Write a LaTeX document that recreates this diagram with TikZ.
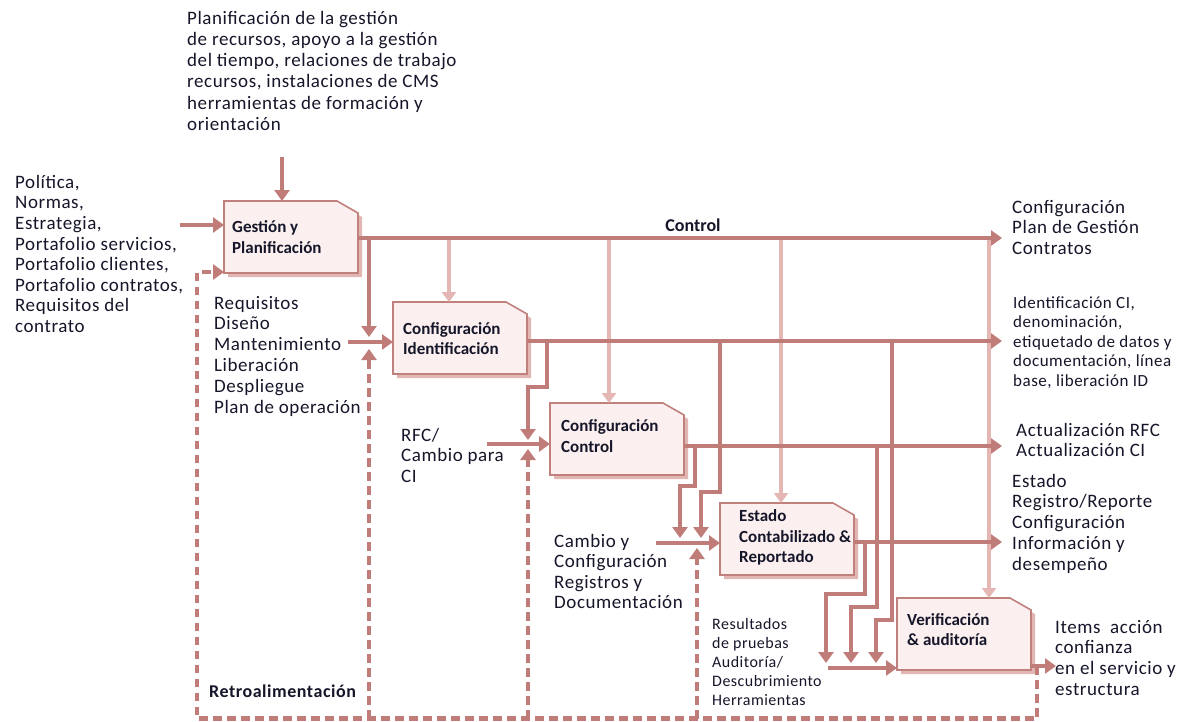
\documentclass[tikz,border=0pt]{standalone}
\usepackage{fontspec}
\setmainfont{Carlito}
\newfontfamily\txtfont[LetterSpace=3]{Carlito}
\usetikzlibrary{arrows.meta}

\definecolor{rose}{HTML}{C07C78}
\definecolor{palerose}{HTML}{E4B7B4}
\definecolor{boxfill}{HTML}{FBF0EF}
\definecolor{boxedge}{HTML}{C0807C}
\definecolor{boxshade}{HTML}{E2B6B3}
\definecolor{ink}{HTML}{16162A}

\tikzset{
  box/.style={minimum width=134pt, minimum height=72pt, anchor=north west,
    inner sep=0pt, outer sep=0pt},
  flow/.style={draw=rose, line width=4.2pt, -{Triangle[length=11pt,width=15pt]}},
  ctrl/.style={draw=palerose, line width=3.6pt, -{Triangle[length=10pt,width=14pt]}},
  fback/.style={draw=rose, line width=4.2pt, dash pattern=on 8.5pt off 5.5pt,
    -{Triangle[length=11pt,width=15pt]}},
  lbl/.style={anchor=north west, inner sep=0pt, align=left, text=ink},
  big/.style={lbl, font=\txtfont\fontsize{19}{20.7}\selectfont},
  mid/.style={lbl, font=\txtfont\fontsize{17}{19.5}\selectfont},
  small/.style={lbl, font=\txtfont\fontsize{16}{19}\selectfont},
  boxlbl/.style={lbl, font=\bfseries\fontsize{17}{20.5}\selectfont},
}

% chamfered process box with its drop shadow, drawn on a named node
\newcommand{\cfgshape}[1]{%
  \fill[boxshade] ([shift={(4pt,-4pt)}]#1.north west)
    -- ([shift={(-17pt,-4pt)}]#1.north east)
    -- ([shift={(4pt,-16pt)}]#1.north east)
    -- ([shift={(4pt,-4pt)}]#1.south east)
    -- ([shift={(4pt,-4pt)}]#1.south west) -- cycle;
  \filldraw[fill=boxfill, draw=boxedge, line width=1.6pt] (#1.north west)
    -- ([xshift=-21pt]#1.north east)
    -- ([yshift=-12pt]#1.north east)
    -- (#1.south east) -- (#1.south west) -- cycle;
}

\begin{document}
\begin{tikzpicture}[x=1pt, y=-1pt, line join=miter]
\useasboundingbox (0,0) rectangle (1179,721);
\fill[white] (0,0) rectangle (1179,721);

% process boxes
\node[box] (b1) at (224,201) {};
\node[box] (b2) at (393,302) {};
\node[box] (b3) at (550,403) {};
\node[box] (b4) at (720,503) {};
\node[box] (b5) at (897,598) {};
\foreach \b in {b1,b2,b3,b4,b5} {\cfgshape{\b}}

% control feeds from the control line
\coordinate (c2) at (449,238);
\coordinate (c3) at (609,238);
\coordinate (c4) at (781,238);
\coordinate (c5) at (989,238);
\draw[ctrl] (c2) -- (c2 |- b2.north);
\draw[ctrl] (c3) -- (c3 |- b3.north);
\draw[ctrl] (c4) -- (c4 |- b4.north);
\draw[ctrl] (c5) -- (c5 |- b5.north);

% inputs
\coordinate (topIn) at (282,157);
\coordinate (leftIn) at (180,225);
\coordinate (mantIn) at (348,342);
\coordinate (rfcIn) at (487,444);
\coordinate (chgIn) at (656,543);
\coordinate (resIn) at (828,668);
\draw[flow] (topIn) -- (topIn |- b1.north);
\draw[flow] (leftIn) -- (leftIn -| b1.west);
\draw[flow] (mantIn) -- (mantIn -| b2.west);
\draw[flow] (rfcIn) -- (rfcIn -| b3.west);
\draw[flow] (chgIn) -- (chgIn -| b4.west);
\draw[flow] (resIn) -- (resIn -| b5.west);

% outputs
\coordinate (ctrlEnd) at (1002,238);
\coordinate (o2) at (1002,341);
\coordinate (o3) at (1002,446);
\coordinate (o4) at (1002,542);
\coordinate (o5) at (1056,666);
\draw[flow] (b1.east |- ctrlEnd) -- (ctrlEnd);
\draw[flow] (b2.east |- o2) -- (o2);
\draw[flow] (b3.east |- o3) -- (o3);
\draw[flow] (b4.east |- o4) -- (o4);
\draw[flow] (b5.east |- o5) -- (o5);

% links between the stages
\coordinate (j2) at (369,337);
\coordinate (j3) at (528,440);
\coordinate (j4a) at (680,538);
\coordinate (j4b) at (701,538);
\coordinate (j5a) at (826,663);
\coordinate (j5b) at (851,663);
\coordinate (j5c) at (876,663);
\draw[flow] (b1.east |- ctrlEnd) -| (j2);
\draw[flow] (b2.east |- o2) -| (547,387) -| (j3);
\draw[flow] (b2.east |- o2) -| (720,492) -| (j4b);
\draw[flow] (b3.east |- o3) -| (695,486) -| (j4a);
\draw[flow] (b4.east |- o4) -| (865,594) -| (j5a);
\draw[flow] (b3.east |- o3) -| (877,607) -| (j5b);
\draw[flow] (b2.east |- o2) -| (892,620) -| (j5c);

% feedback loop
\coordinate (fbTurn) at (1037,666);
\coordinate (fbLow) at (0,718.5);
\coordinate (f2) at (369,349);
\coordinate (f3) at (528,449);
\coordinate (f4) at (697,548);
\draw[fback] (fbTurn) -- (fbTurn |- fbLow) -- (197,718.5) -- (197,272) -- (b1.west |- 0,272);
\draw[fback] (f2 |- fbLow) -- (f2);
\draw[fback] (f3 |- fbLow) -- (f3);
\draw[fback] (f4 |- fbLow) -- (f4);

% box labels
\node[boxlbl] (l1) at (232,218.4) {\strut Gestión y\\Planificación};
\node[boxlbl] (l2) at (403,319.6) {\strut Configuración\\Identificación};
\node[boxlbl] (l3) at (561,417.3) {\strut Configuración\\Control};
\node[boxlbl] (l4) at (739,507.3) {\strut Estado\\Contabilizado \&\\Reportado};
\node[boxlbl] (l5) at (907,610.6) {\strut Verificación\\\& auditoría};

\node[font=\bfseries\fontsize{18}{20}\selectfont, text=ink, anchor=base, inner sep=0pt]
  (tCtrl) at (693,231) {Control};
\node[font=\txtfont\bfseries\fontsize{18}{20}\selectfont, text=ink, anchor=base west, inner sep=0pt]
  (tFb) at (209,697) {Retroalimentación};

% surrounding texts
\node[lbl, font=\txtfont\fontsize{19}{21.2}\selectfont] (tTop) at (187,9.2)
  {\strut Planificación de la gestión\\de recursos, apoyo a la gestión\\del tiempo, relaciones de trabajo\\recursos, instalaciones de CMS\\herramientas de formación y\\orientación};
\node[lbl, font=\txtfont\fontsize{19}{20.6}\selectfont] (tIn) at (15,173.6)
  {\strut Política,\\Normas,\\Estrategia,\\Portafolio servicios,\\Portafolio clientes,\\Portafolio contratos,\\Requisitos del\\contrato};
\node[lbl, font=\txtfont\fontsize{19}{20.8}\selectfont] (tReq) at (214,294.4)
  {\strut Requisitos\\Diseño\\Mantenimiento\\Liberación\\Despliegue\\Plan de operación};
\node[lbl, font=\txtfont\fontsize{19}{20.5}\selectfont] (tRfc) at (401,426.6)
  {\strut RFC/\\Cambio para\\CI};
\node[lbl, font=\txtfont\fontsize{19}{20.5}\selectfont] (tChg) at (554,532.6)
  {\strut Cambio y\\Configuración\\Registros y\\Documentación};
\node[small] (tRes) at (712,615.7)
  {\strut Resultados\\de pruebas\\Auditoría/\\Descubrimiento\\Herramientas};

\node[big] (tOut1) at (1012,198.5) {\strut Configuración\\Plan de Gestión\\Contratos};
\node[mid] (tOut2) at (1013,294.3)
  {\strut Identificación CI,\\denominación,\\etiquetado de datos y\\documentación, línea\\base, liberación ID};
\node[big] (tOut3) at (1016,421.5) {\strut Actualización RFC\\Actualización CI};
\node[lbl, font=\txtfont\fontsize{19}{20.8}\selectfont] (tOut4) at (1012,472.4)
  {\strut Estado\\Registro/Reporte\\Configuración\\Información y\\desempeño};
\node[big] (tOut5) at (1055,618.5) {\strut Items\ \ acción\\confianza\\en el servicio y\\estructura};
\end{tikzpicture}
\end{document}
